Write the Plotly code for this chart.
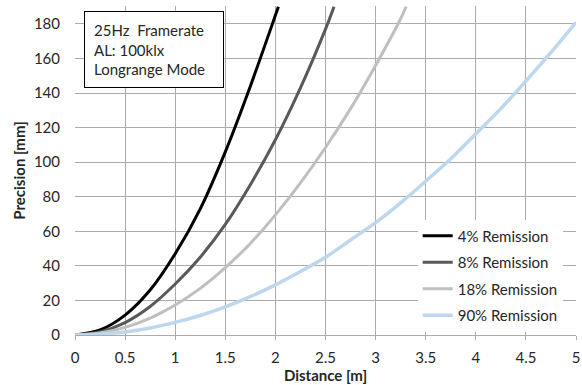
import plotly.graph_objects as go

# Series (Distance [m], Precision [mm])
x_4 = [0, 0.25, 0.5, 0.75, 1.0, 1.25, 1.5, 1.75, 2.0, 2.03]
y_4 = [0, 2.9, 11.5, 26, 47, 73, 106, 144, 185, 190]

x_8 = [0, 0.25, 0.5, 0.75, 1.0, 1.25, 1.5, 1.75, 2.0, 2.25, 2.5, 2.585]
y_8 = [0, 1.8, 7.2, 16.5, 29.5, 45, 64, 87, 113, 143, 177, 190]

x_18 = [0, 0.25, 0.5, 0.75, 1.0, 1.25, 1.5, 1.75, 2.0, 2.25, 2.5, 2.75, 3.0, 3.25, 3.305]
y_18 = [0, 1.1, 4.4, 9.8, 17.4, 27, 39, 53, 69.5, 88, 108.5, 131, 156, 183, 190]

x_90 = [0, 0.25, 0.5, 0.75, 1.0, 1.25, 1.5, 1.75, 2.0, 2.25, 2.5, 2.75, 3.0, 3.25,
        3.5, 3.75, 4.0, 4.25, 4.5, 4.75, 5.0]
y_90 = [0, 0.45, 1.8, 4.1, 7.3, 11.3, 16.3, 22.2, 29, 36.7, 45, 55, 65, 76.5,
        89, 102, 116.5, 131, 147, 163.5, 181]

series_names = ["4% Remission", "8% Remission", "18% Remission", "90% Remission"]
series_colors = ["#000000", "#595959", "#BFBFBF", "#BDD7EE"]
series_widths = [3, 3, 3, 3.5]

x_ticks = [0, 0.5, 1, 1.5, 2, 2.5, 3, 3.5, 4, 4.5, 5]
x_tick_labels = ["0", "0.5", "1", "1.5", "2", "2.5", "3", "3.5", "4", "4.5", "5"]
y_ticks = [0, 20, 40, 60, 80, 100, 120, 140, 160, 180]

info_text = "25Hz\u00a0 Framerate<br>AL: 100klx<br>Longrange Mode"

FONT = "Lato"
TXT = "#262626"
GRID = "#ABABAB"

fig = go.Figure()
for i, (xs, ys) in enumerate([(x_4, y_4), (x_8, y_8), (x_18, y_18), (x_90, y_90)]):
    fig.add_trace(go.Scatter(
        x=xs, y=ys, mode="lines", name=series_names[i],
        line=dict(color=series_colors[i], width=series_widths[i], shape="spline", smoothing=0.8),
        legendgroup=f"g{i}",
    ))

fig.update_layout(
    width=582, height=385,
    margin=dict(l=74.5, r=6.3, t=6, b=50, autoexpand=False),
    paper_bgcolor="white", plot_bgcolor="white",
    font=dict(family=FONT, size=15, color=TXT),
    showlegend=True,
    legend=dict(
        x=0.684, y=0.351, xanchor="left", yanchor="top",
        bgcolor="white", borderwidth=0,
        font=dict(family=FONT, size=15, color=TXT),
        traceorder="grouped", tracegroupgap=4,
    ),
    annotations=[dict(
        text=info_text, xref="paper", yref="paper",
        x=0.017, y=0.985, xanchor="left", yanchor="top",
        showarrow=False, align="left", valign="middle",
        width=120, height=57,
        font=dict(family=FONT, size=15, color=TXT),
        bordercolor="#000000", borderwidth=1, borderpad=9,
        bgcolor="white",
    )],
)

fig.update_xaxes(
    range=[0, 5], tickvals=x_ticks, ticktext=x_tick_labels, automargin=False,
    showgrid=True, gridcolor=GRID, gridwidth=1,
    zeroline=False, showline=True, linecolor=GRID, linewidth=1,
    ticks="outside", ticklen=4, tickcolor=GRID, ticklabelstandoff=5,
    tickfont=dict(family=FONT, size=15, color=TXT),
    title=dict(text="<b>Distance [m]</b>", standoff=4,
               font=dict(family=FONT, size=15, color=TXT)),
)
fig.update_yaxes(
    range=[0, 190.4], tickvals=y_ticks, automargin=False,
    showgrid=True, gridcolor=GRID, gridwidth=1,
    zeroline=False, showline=False,
    ticks="", ticklabelstandoff=14,
    tickfont=dict(family=FONT, size=15, color=TXT),
    title=dict(text="<b>Precision [mm]</b>", standoff=4,
               font=dict(family=FONT, size=15, color=TXT)),
)

fig.write_html("out.html", config={"displayModeBar": False},
               post_script="document.body.style.margin='0';")
